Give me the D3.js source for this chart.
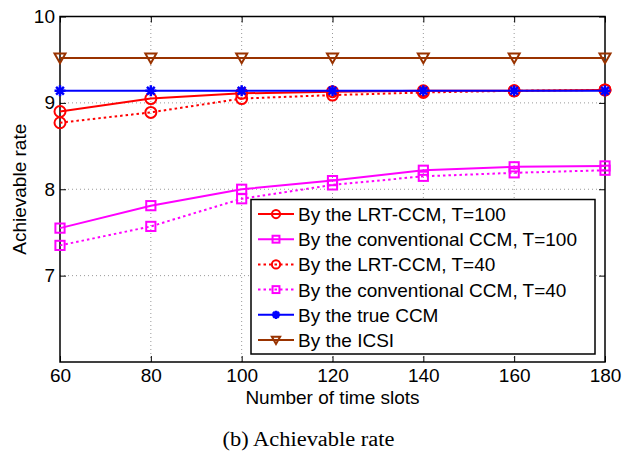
<!DOCTYPE html>
<html>
<head>
<meta charset="utf-8">
<script src="https://cdn.jsdelivr.net/npm/d3@7"></script>
<style>
body { margin: 0; background: #fff; }
svg text { font-family: Arial, "Liberation Sans", sans-serif; }
</style>
</head>
<body>
<script>
// number of time slots
var slots = [60, 80, 100, 120, 140, 160, 180];
// achievable rate per series
var lrt100 = [8.90, 9.05, 9.11, 9.13, 9.14, 9.14, 9.15];
var conv100 = [7.55, 7.81, 8.00, 8.10, 8.22, 8.26, 8.27];
var lrt40 = [8.77, 8.89, 9.05, 9.09, 9.12, 9.14, 9.15];
var conv40 = [7.35, 7.57, 7.89, 8.05, 8.15, 8.19, 8.22];
var trueCcm = [9.14, 9.14, 9.14, 9.14, 9.14, 9.14, 9.14];
var icsi = [9.52, 9.52, 9.52, 9.52, 9.52, 9.52, 9.52];
var yTicks = [7, 8, 9, 10];

var series = [
  {name: "By the LRT-CCM, T=100", v: lrt100, color: "#ff0000", dash: null, marker: "circle"},
  {name: "By the conventional CCM, T=100", v: conv100, color: "#ff00ff", dash: null, marker: "square"},
  {name: "By the LRT-CCM, T=40", v: lrt40, color: "#ff0000", dash: "2.5,3", marker: "circle"},
  {name: "By the conventional CCM, T=40", v: conv40, color: "#ff00ff", dash: "2.5,3", marker: "square"},
  {name: "By the true CCM", v: trueCcm, color: "#0000ff", dash: null, marker: "star"},
  {name: "By the ICSI", v: icsi, color: "#993300", dash: null, marker: "tri"}
];

var W = 626, H = 452;
var m = {l: 60, r: 21, t: 16.5, b: 90};
var fs = 19;

var svg = d3.select("body").append("svg")
  .attr("width", W).attr("height", H);

var x = d3.scaleLinear().domain([60, 180]).range([m.l, W - m.r]);
var y = d3.scaleLinear().domain([6, 10]).range([H - m.b, m.t]);

// grid
var g = svg.append("g");
g.selectAll(".gx").data(slots.slice(1, -1)).enter().append("line")
  .attr("x1", d => x(d)).attr("x2", d => x(d))
  .attr("y1", y(6)).attr("y2", y(10))
  .attr("stroke", "#999").attr("stroke-width", 1).attr("stroke-dasharray", "1,3");
g.selectAll(".gy").data(yTicks.slice(0, -1)).enter().append("line")
  .attr("x1", x(60)).attr("x2", x(180))
  .attr("y1", d => y(d)).attr("y2", d => y(d))
  .attr("stroke", "#999").attr("stroke-width", 1).attr("stroke-dasharray", "1,3");

// axes, ticks inside
var xa = svg.append("g").attr("transform", "translate(0," + y(6) + ")")
  .call(d3.axisBottom(x).tickValues(slots).tickFormat(d3.format("d")).tickSize(-6).tickPadding(7).tickSizeOuter(0));
var xt = svg.append("g").attr("transform", "translate(0," + y(10) + ")")
  .call(d3.axisTop(x).tickValues(slots).tickSize(-6).tickFormat("").tickSizeOuter(0));
var ya = svg.append("g").attr("transform", "translate(" + x(60) + ",0)")
  .call(d3.axisLeft(y).tickValues(yTicks).tickFormat(d3.format("d")).tickSize(-6).tickPadding(5).tickSizeOuter(0));
var yr = svg.append("g").attr("transform", "translate(" + x(180) + ",0)")
  .call(d3.axisRight(y).tickValues(yTicks).tickSize(-6).tickFormat("").tickSizeOuter(0));
[xa, xt, ya, yr].forEach(function(a) {
  a.attr("font-size", fs).attr("font-family", null);
  a.select(".domain").remove();
  a.selectAll("line").attr("stroke", "#000");
  a.selectAll("text").attr("fill", "#000");
});

svg.append("rect")
  .attr("x", x(60)).attr("y", y(10))
  .attr("width", x(180) - x(60)).attr("height", y(6) - y(10))
  .attr("fill", "none").attr("stroke", "#000").attr("stroke-width", 1.5);

// markers
function marker(sel, type, color, px, py, s) {
  s = s || 1;
  if (type == "circle") {
    sel.append("circle").attr("cx", px).attr("cy", py).attr("r", 5.5 * s)
      .attr("fill", "none").attr("stroke", color).attr("stroke-width", 2);
  } else if (type == "square") {
    var h = 4.6 * s;
    sel.append("rect").attr("x", px - h).attr("y", py - h).attr("width", 2 * h).attr("height", 2 * h)
      .attr("fill", "none").attr("stroke", color).attr("stroke-width", 2);
  } else if (type == "tri") {
    var a = 5.5 * s;
    sel.append("path")
      .attr("d", "M" + (px - a) + "," + (py - a * 0.8) + "L" + (px + a) + "," + (py - a * 0.8) + "L" + px + "," + (py + a * 0.95) + "Z")
      .attr("fill", "none").attr("stroke", color).attr("stroke-width", 2);
  } else if (type == "star") {
    var r = 5.5 * s;
    var p = "";
    for (var k = 0; k < 4; k++) {
      var ang = k * Math.PI / 4;
      p += "M" + (px - r * Math.cos(ang)) + "," + (py - r * Math.sin(ang)) + "L" + (px + r * Math.cos(ang)) + "," + (py + r * Math.sin(ang));
    }
    sel.append("path").attr("d", p).attr("stroke", color).attr("stroke-width", 2.5);
  }
}

var line = d3.line().x((d, i) => x(slots[i])).y(d => y(d));
var plot = svg.append("g");
series.forEach(function(s) {
  plot.append("path").datum(s.v)
    .attr("d", line).attr("fill", "none")
    .attr("stroke", s.color).attr("stroke-width", 2)
    .attr("stroke-dasharray", s.dash);
  s.v.forEach(function(v, i) {
    marker(plot, s.marker, s.color, x(slots[i]), y(v));
  });
});

// legend
var lg = svg.append("g");
var lx = 251, ly = 199.5, lw = 344, lh = 154.5;
lg.append("rect").attr("x", lx).attr("y", ly).attr("width", lw).attr("height", lh)
  .attr("fill", "#fff").attr("stroke", "#000").attr("stroke-width", 1.5);
series.forEach(function(s, i) {
  var yy = ly + 14.5 + i * 25.2;
  lg.append("line").attr("x1", lx + 7).attr("x2", lx + 43).attr("y1", yy).attr("y2", yy)
    .attr("stroke", s.color).attr("stroke-width", 2).attr("stroke-dasharray", s.dash);
  marker(lg, s.marker, s.color, lx + 25, yy, 0.75);
  lg.append("text").attr("x", lx + 47).attr("y", yy + 7)
    .attr("font-size", fs).text(s.name);
});

// labels
svg.append("text").attr("x", x(120)).attr("y", 404).attr("text-anchor", "middle")
  .attr("font-size", fs).text("Number of time slots");
svg.append("text").attr("transform", "translate(26," + y(8) + ") rotate(-90)")
  .attr("text-anchor", "middle").attr("font-size", fs).text("Achievable rate");
svg.append("text").attr("x", 308.5).attr("y", 446).attr("text-anchor", "middle")
  .attr("font-size", 20).attr("textLength", 172).attr("lengthAdjust", "spacingAndGlyphs")
  .style("font-family", "'Times New Roman', 'Liberation Serif', serif")
  .text("(b) Achievable rate");
</script>
</body>
</html>
